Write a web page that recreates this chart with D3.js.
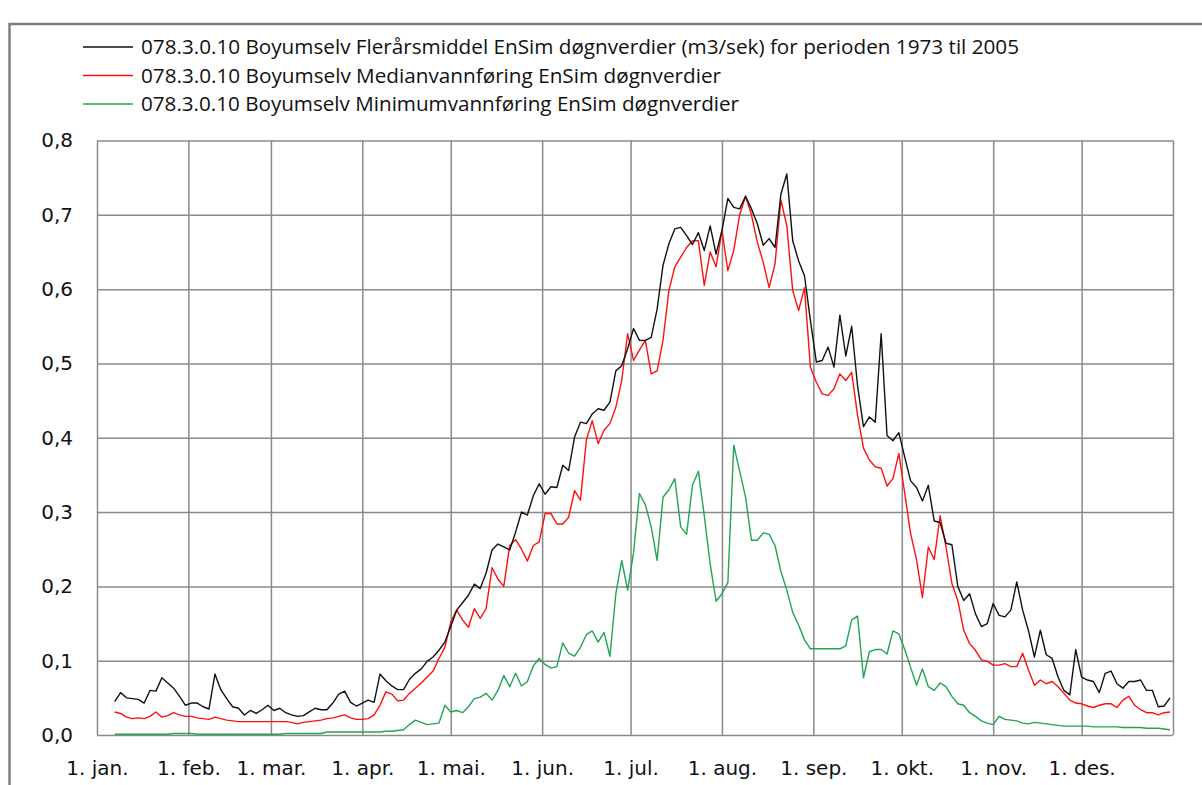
<!DOCTYPE html>
<html>
<head>
<meta charset="utf-8">
<script src="https://cdn.jsdelivr.net/npm/d3@7"></script>
<style>
  body { margin: 0; background: #fff; }
  svg { display: block; }
</style>
</head>
<body>
<div id="chart"></div>
<script>
// day of year for every reading (every second day, from 7. jan)
const days = d3.range(6, 365, 2);

const monthLabels = ["1. jan.", "1. feb.", "1. mar.", "1. apr.", "1. mai.", "1. jun.",
                     "1. jul.", "1. aug.", "1. sep.", "1. okt.", "1. nov.", "1. des."];
const monthStarts = [0, 31, 59, 90, 120, 151, 181, 212, 243, 273, 304, 334];
const yTicks = [0, 0.1, 0.2, 0.3, 0.4, 0.5, 0.6, 0.7, 0.8];

const meanValues = [
  0.045, 0.057, 0.050, 0.049, 0.048, 0.043, 0.060, 0.059, 0.077, 0.070,
  0.063, 0.052, 0.040, 0.043, 0.043, 0.038, 0.035, 0.082, 0.061, 0.049,
  0.038, 0.036, 0.027, 0.033, 0.029, 0.034, 0.040, 0.033, 0.036, 0.030,
  0.027, 0.025, 0.026, 0.031, 0.036, 0.034, 0.034, 0.043, 0.055, 0.059,
  0.044, 0.039, 0.043, 0.047, 0.044, 0.082, 0.073, 0.066, 0.061, 0.061,
  0.075, 0.083, 0.089, 0.099, 0.105, 0.114, 0.125, 0.146, 0.168, 0.178,
  0.188, 0.203, 0.197, 0.218, 0.249, 0.257, 0.253, 0.249, 0.273, 0.300,
  0.296, 0.322, 0.338, 0.324, 0.334, 0.333, 0.363, 0.356, 0.401, 0.421,
  0.419, 0.432, 0.439, 0.437, 0.448, 0.490, 0.497, 0.520, 0.547, 0.531,
  0.531, 0.535, 0.573, 0.632, 0.661, 0.681, 0.683, 0.672, 0.660, 0.676,
  0.652, 0.685, 0.647, 0.679, 0.722, 0.710, 0.708, 0.725, 0.708, 0.688,
  0.659, 0.668, 0.656, 0.728, 0.755, 0.665, 0.638, 0.618, 0.558, 0.502,
  0.504, 0.522, 0.495, 0.565, 0.510, 0.550, 0.470, 0.415, 0.428, 0.421,
  0.540, 0.403, 0.396, 0.407, 0.374, 0.342, 0.333, 0.315, 0.336, 0.288,
  0.286, 0.258, 0.256, 0.200, 0.181, 0.190, 0.163, 0.146, 0.150, 0.177,
  0.161, 0.159, 0.168, 0.206, 0.168, 0.140, 0.105, 0.141, 0.108, 0.103,
  0.078, 0.060, 0.054, 0.115, 0.078, 0.074, 0.072, 0.057, 0.083, 0.086,
  0.069, 0.063, 0.072, 0.072, 0.074, 0.060, 0.060, 0.038, 0.039, 0.050
];

const medianValues = [
  0.031, 0.029, 0.024, 0.022, 0.023, 0.022, 0.025, 0.031, 0.024, 0.026,
  0.030, 0.027, 0.025, 0.025, 0.023, 0.022, 0.021, 0.024, 0.022, 0.020,
  0.019, 0.018, 0.018, 0.018, 0.018, 0.018, 0.018, 0.018, 0.018, 0.018,
  0.017, 0.015, 0.017, 0.018, 0.019, 0.020, 0.022, 0.023, 0.025, 0.027,
  0.023, 0.021, 0.021, 0.022, 0.027, 0.040, 0.058, 0.055, 0.046, 0.047,
  0.056, 0.063, 0.070, 0.078, 0.086, 0.103, 0.118, 0.152, 0.168, 0.155,
  0.145, 0.170, 0.157, 0.170, 0.225, 0.210, 0.200, 0.255, 0.263, 0.250,
  0.234, 0.255, 0.260, 0.298, 0.298, 0.284, 0.284, 0.293, 0.329, 0.316,
  0.397, 0.423, 0.392, 0.410, 0.419, 0.441, 0.477, 0.540, 0.504, 0.518,
  0.531, 0.486, 0.490, 0.531, 0.598, 0.630, 0.643, 0.656, 0.665, 0.665,
  0.605, 0.650, 0.630, 0.679, 0.625, 0.652, 0.700, 0.725, 0.700, 0.663,
  0.636, 0.602, 0.634, 0.720, 0.685, 0.598, 0.571, 0.602, 0.495, 0.475,
  0.459, 0.457, 0.466, 0.486, 0.477, 0.488, 0.430, 0.386, 0.370, 0.361,
  0.359, 0.335, 0.345, 0.379, 0.325, 0.271, 0.236, 0.185, 0.253, 0.236,
  0.295, 0.253, 0.204, 0.181, 0.141, 0.123, 0.114, 0.101, 0.099, 0.094,
  0.094, 0.096, 0.092, 0.092, 0.110, 0.087, 0.067, 0.074, 0.069, 0.072,
  0.065, 0.056, 0.047, 0.043, 0.042, 0.039, 0.037, 0.040, 0.042, 0.042,
  0.037, 0.047, 0.052, 0.040, 0.034, 0.030, 0.030, 0.027, 0.030, 0.031
];

const minValues = [
  0.001, 0.001, 0.001, 0.001, 0.001, 0.001, 0.001, 0.001, 0.001, 0.001,
  0.002, 0.002, 0.002, 0.002, 0.001, 0.001, 0.001, 0.001, 0.001, 0.001,
  0.001, 0.001, 0.001, 0.001, 0.001, 0.001, 0.001, 0.001, 0.001, 0.002,
  0.002, 0.002, 0.002, 0.002, 0.002, 0.002, 0.004, 0.004, 0.004, 0.004,
  0.004, 0.004, 0.004, 0.004, 0.004, 0.004, 0.005, 0.005, 0.006, 0.007,
  0.014, 0.020, 0.017, 0.014, 0.015, 0.016, 0.040, 0.031, 0.033, 0.030,
  0.038, 0.049, 0.051, 0.056, 0.047, 0.060, 0.080, 0.065, 0.083, 0.066,
  0.072, 0.093, 0.103, 0.095, 0.090, 0.092, 0.124, 0.110, 0.106, 0.118,
  0.135, 0.140, 0.125, 0.138, 0.106, 0.190, 0.235, 0.195, 0.245, 0.325,
  0.310, 0.280, 0.235, 0.320, 0.330, 0.345, 0.280, 0.270, 0.336, 0.355,
  0.295, 0.230, 0.180, 0.190, 0.205, 0.390, 0.355, 0.320, 0.262, 0.262,
  0.272, 0.270, 0.255, 0.220, 0.195, 0.165, 0.148, 0.128, 0.116, 0.116,
  0.116, 0.116, 0.116, 0.116, 0.120, 0.155, 0.160, 0.077, 0.112, 0.115,
  0.115, 0.109, 0.140, 0.136, 0.115, 0.091, 0.067, 0.089, 0.065, 0.060,
  0.070, 0.065, 0.052, 0.042, 0.040, 0.030, 0.025, 0.019, 0.016, 0.014,
  0.025, 0.021, 0.020, 0.019, 0.016, 0.015, 0.017, 0.016, 0.015, 0.014,
  0.013, 0.012, 0.012, 0.012, 0.012, 0.012, 0.011, 0.011, 0.011, 0.011,
  0.011, 0.010, 0.010, 0.010, 0.010, 0.009, 0.009, 0.009, 0.008, 0.007
];

const seriesNames = [
  "078.3.0.10 Boyumselv Flerårsmiddel EnSim døgnverdier (m3/sek) for perioden 1973 til 2005",
  "078.3.0.10 Boyumselv Medianvannføring EnSim døgnverdier",
  "078.3.0.10 Boyumselv Minimumvannføring EnSim døgnverdier"
];

const W = 1202, H = 785;
const margin = { top: 140.5, right: 29, bottom: 50, left: 97 };
const gridColor = "#8a8a8a";

const svg = d3.select("#chart").append("svg")
    .attr("width", W)
    .attr("height", H);

// outer chart frame
svg.append("rect")
    .attr("x", 9.5).attr("y", 24)
    .attr("width", 1250).attr("height", 900)
    .attr("fill", "none")
    .attr("stroke", "#7f7f7f")
    .attr("stroke-width", 2.5);

const x = d3.scaleLinear()
    .domain([0, 365])
    .range([margin.left, W - margin.right]);

const y = d3.scaleLinear()
    .domain([0, 0.8])
    .range([H - margin.bottom, margin.top]);

// horizontal gridlines + y labels
svg.append("g")
    .attr("transform", "translate(" + margin.left + ",0)")
    .call(d3.axisLeft(y).tickValues(yTicks)
        .tickSize(-(x(365) - x(0)))
        .tickPadding(24)
        .tickFormat(d => d3.format(".1f")(d).replace(".", ",")))
    .call(g => g.select(".domain").remove())
    .call(g => g.selectAll(".tick line").attr("stroke", gridColor).attr("stroke-width", 1.5))
    .call(g => g.selectAll(".tick text")
        .attr("font-family", "DejaVu Sans, Verdana, sans-serif")
        .attr("font-size", 20)
        .attr("fill", "#111"));

// vertical gridlines at month starts + month labels
svg.append("g")
    .attr("transform", "translate(0," + y(0) + ")")
    .call(d3.axisBottom(x).tickValues(monthStarts.concat([365]))
        .tickSize(-(y(0) - y(0.8)))
        .tickPadding(26)
        .tickFormat((d, i) => monthLabels[i] || ""))
    .call(g => g.select(".domain").remove())
    .call(g => g.selectAll(".tick line").attr("stroke", gridColor).attr("stroke-width", 1.5))
    .call(g => g.selectAll(".tick text")
        .attr("font-family", "DejaVu Sans, Verdana, sans-serif")
        .attr("font-size", 20)
        .attr("fill", "#111"));

const series = [
  { name: seriesNames[0], values: meanValues, color: "#111111" },
  { name: seriesNames[1], values: medianValues, color: "#ff1010" },
  { name: seriesNames[2], values: minValues, color: "#1fa555" }
];

const line = d3.line()
    .x((d, i) => x(days[i]))
    .y(d => y(d));

// draw green first so black stays on top
series.slice().reverse().forEach(s => {
    svg.append("path")
        .datum(s.values)
        .attr("fill", "none")
        .attr("stroke", s.color)
        .attr("stroke-width", 1.4)
        .attr("stroke-linejoin", "round")
        .attr("d", line);
});

// legend
const legendWidths = [878, 580, 598];
const legend = svg.append("g");
series.forEach((s, i) => {
    const ly = 47 + i * 28.5;
    legend.append("line")
        .attr("x1", 83).attr("x2", 133)
        .attr("y1", ly).attr("y2", ly)
        .attr("stroke", s.color)
        .attr("stroke-width", 1.3);
    legend.append("text")
        .attr("x", 141)
        .attr("y", ly + 7)
        .attr("font-family", "Liberation Sans Narrow, Open Sans, sans-serif")
        .attr("font-size", 20)
        .attr("fill", "#111")
        .attr("textLength", legendWidths[i])
        .attr("lengthAdjust", "spacingAndGlyphs")
        .text(s.name);
});
</script>
</body>
</html>
